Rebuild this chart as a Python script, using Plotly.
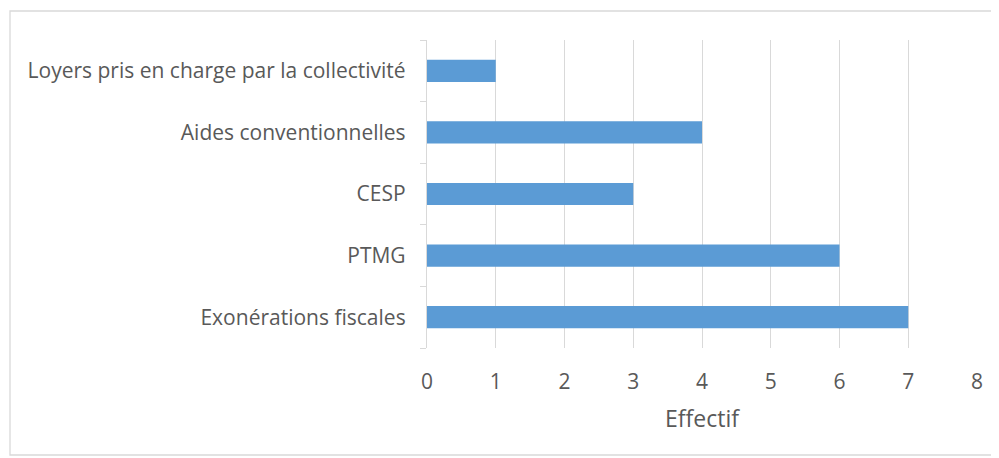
import plotly.graph_objects as go

categories = ["Exonérations fiscales", "PTMG", "CESP", "Aides conventionnelles",
              "Loyers pris en charge par la collectivité"]
values = [7, 6, 3, 4, 1]
x_ticks = [0, 1, 2, 3, 4, 5, 6, 7, 8]

W, H = 999, 458
OFF = 8  # page body margin
ml, mr, mt, mb = 427 - OFF, 999 - (977 - OFF), 40 - OFF, 458 - (348 - OFF)

fig = go.Figure(go.Bar(
    y=categories, x=values, orientation="h",
    marker=dict(color="#5B9BD5", line=dict(width=0)),
    width=0.36,
))

font = dict(family="Open Sans, Calibri, sans-serif", size=20, color="#595959")
fig.update_layout(
    width=W, height=H,
    margin=dict(l=ml, r=mr, t=mt, b=mb, autoexpand=False),
    paper_bgcolor="white", plot_bgcolor="white",
    font=font,
    showlegend=False,
    xaxis=dict(
        range=[0, 8], tickvals=x_ticks, showgrid=True, gridcolor="#d9d9d9", gridwidth=1.3,
        zeroline=False, showline=False, ticks="outside", ticklen=15,
        tickcolor="rgba(0,0,0,0)", tickfont=dict(size=21),
        title=dict(text="Effectif", font=dict(size=23), standoff=16),
        fixedrange=True,
    ),
    yaxis=dict(
        type="category", categoryorder="array", categoryarray=categories,
        showline=True, linecolor="#d9d9d9", linewidth=1.3,
        ticks="outside", tickson="boundaries", ticklen=6, tickcolor="#d9d9d9",
        tickwidth=1.3, ticklabelstandoff=16, showgrid=False, tickfont=dict(size=21),
        fixedrange=True,
    ),
)

pw = W - ml - mr
ph = H - mt - mb
fig.add_shape(type="rect", xref="paper", yref="paper",
              x0=(10 - OFF - ml) / pw, x1=(996 - OFF - ml) / pw,
              y0=(H - mb - (455 - OFF)) / ph, y1=(H - mb - (11 - OFF)) / ph,
              line=dict(color="#d9d9d9", width=1.3), fillcolor="rgba(0,0,0,0)", layer="below")

fig.write_html("out.html")
